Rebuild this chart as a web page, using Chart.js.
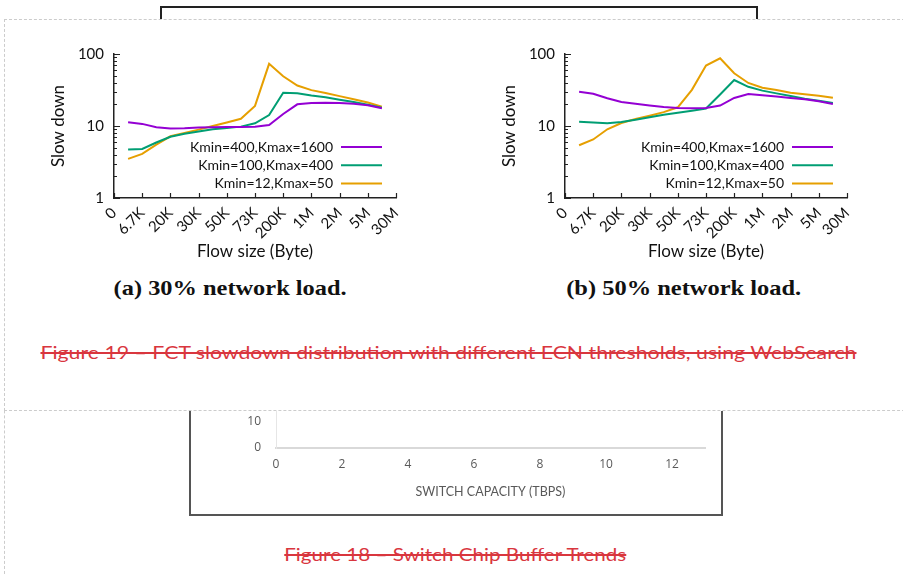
<!DOCTYPE html>
<html>
<head>
<meta charset="utf-8">
<script src="https://cdn.jsdelivr.net/npm/chart.js@4.4.1/dist/chart.umd.min.js"></script>
<style>
  html, body { margin: 0; padding: 0; background: #fff; }
  body { width: 903px; height: 574px; position: relative; overflow: hidden; font-family: Lato, sans-serif; }
  .abs { position: absolute; }
  #topBox { left: 160px; top: 6px; width: 594px; height: 40px; border: 2px solid #222; border-bottom: none; z-index: 1; }
  #pageEdge { left: 4px; top: 19px; height: 560px; border-left: 1px dashed #ccc; z-index: 0; }
  #sheet { left: 4px; top: 19px; width: 920px; height: 390px; background: #fff; border: 1px dashed #ccc; border-right: none; z-index: 3; }
  #bottomBox { left: 189px; top: 380px; width: 530px; height: 134px; border: 2px solid #555; border-top: none; z-index: 1; }
  #capChart { left: 200px; top: 330px; z-index: 2; }
  #loadA { left: 30px; top: 30px; z-index: 4; }
  #loadB { left: 481px; top: 30px; z-index: 4; }
  .fit { z-index: 4; white-space: nowrap; text-align: center; }
  .fit span { display: inline-block; transform-origin: center center; }
  .sub { font-family: "Liberation Serif", serif; font-weight: bold; font-size: 22px; color: #111; line-height: 26px; }
  .cap { font-family: Lato, sans-serif; font-size: 18px; color: #d9363e; line-height: 24px; }
  .cap span { text-decoration: line-through; text-decoration-thickness: 2px; text-decoration-color: #d9363e; }
</style>
</head>
<body>
<div id="topBox" class="abs"></div>
<div id="pageEdge" class="abs"></div>
<div id="bottomBox" class="abs"></div>
<canvas id="capChart" class="abs" width="520" height="180"></canvas>
<div id="sheet" class="abs"></div>
<canvas id="loadA" class="abs" width="400" height="240"></canvas>
<canvas id="loadB" class="abs" width="400" height="240"></canvas>

<div class="abs fit sub" data-cx="230" data-cy="288" data-w="233"><span>(a) 30% network load.</span></div>
<div class="abs fit sub" data-cx="684" data-cy="288" data-w="235"><span>(b) 50% network load.</span></div>
<div class="abs fit cap" data-cx="448" data-cy="352" data-w="816"><span>Figure 19 – FCT slowdown distribution with different ECN thresholds, using WebSearch</span></div>
<div class="abs fit cap" data-cx="455" data-cy="554" data-w="342"><span>Figure 18 – Switch Chip Buffer Trends</span></div>

<script>
// slowdown charts: x axis categories (tick boundaries) and sample positions between them
const flowLabels = ['0', '6.7K', '20K', '30K', '50K', '73K', '200K', '1M', '2M', '5M', '30M'];
const xPos = [0.5, 1, 1.5, 2, 2.5, 3, 3.5, 4, 4.5, 5, 5.5, 6, 6.5, 7, 7.5, 8, 8.5, 9, 9.5];
const yTicks = [1, 10, 100];
const seriesNames = ['Kmin=400,Kmax=1600', 'Kmin=100,Kmax=400', 'Kmin=12,Kmax=50'];
const seriesColors = ['#9400d3', '#009e73', '#e69f00'];

// (a) 30% load
const load30Purple = [11.3, 10.7, 9.6, 9.2, 9.3, 9.5, 9.6, 9.7, 9.7, 9.8, 10.3, 14.7, 20.0, 20.8, 21.0, 20.9, 20.4, 19.4, 17.6];
const load30Green  = [4.7, 4.8, 5.9, 7.1, 7.8, 8.4, 9.0, 9.4, 9.8, 10.9, 14.2, 29.0, 28.5, 26.5, 25.0, 23.2, 21.5, 19.8, 18.0];
const load30Orange = [3.5, 4.1, 5.5, 7.2, 8.0, 8.9, 10.0, 11.2, 12.6, 19.0, 73.0, 49.0, 36.5, 31.5, 28.8, 26.0, 23.6, 21.2, 18.6];

// (b) 50% load
const load50Purple = [30.0, 28.0, 24.3, 21.6, 20.3, 19.2, 18.3, 17.8, 17.6, 17.8, 19.2, 24.5, 27.8, 26.7, 25.6, 24.5, 23.5, 22.1, 20.2];
const load50Green  = [11.5, 11.2, 10.9, 11.4, 12.2, 13.2, 14.3, 15.3, 16.3, 17.5, 27.4, 43.5, 35.0, 31.0, 28.4, 26.1, 24.0, 22.5, 20.8];
const load50Orange = [5.4, 6.5, 9.0, 11.0, 12.5, 13.9, 15.6, 18.2, 31.8, 69.0, 87.0, 54.0, 39.6, 34.0, 31.6, 29.0, 27.6, 26.4, 24.6];

// remnant of the switch buffer chart
const capacityTicks = [0, 2, 4, 6, 8, 10, 12];
const bufferTicks = [0, 10, 20, 30];

const insideLegend = {
  id: 'insideLegend',
  afterDatasetsDraw(chart) {
    const { ctx, chartArea: a } = chart;
    ctx.save();
    ctx.font = '14px Lato';
    ctx.fillStyle = '#111';
    ctx.textAlign = 'right';
    ctx.textBaseline = 'middle';
    chart.data.datasets.forEach((ds, i) => {
      const y = a.top + 93 + i * 18.3;
      ctx.fillText(ds.label, a.right - 63, y);
      ctx.strokeStyle = ds.borderColor;
      ctx.lineWidth = 2;
      ctx.beginPath();
      ctx.moveTo(a.right - 55, y);
      ctx.lineTo(a.right - 14, y);
      ctx.stroke();
    });
    ctx.restore();
  }
};

// gnuplot style ticks pointing into the plot
const inwardTicks = {
  id: 'inwardTicks',
  afterDraw(chart) {
    const { ctx, chartArea: a, scales: { x, y } } = chart;
    ctx.save();
    ctx.strokeStyle = '#222';
    ctx.lineWidth = 1.2;
    ctx.beginPath();
    [1, 10].forEach(d => {
      for (let m = 1; m <= 9; m++) {
        const py = Math.round(y.getPixelForValue(d * m)) + 0.5;
        ctx.moveTo(a.left, py);
        ctx.lineTo(a.left + (m === 1 ? 6 : 3), py);
      }
    });
    const top = Math.round(y.getPixelForValue(100)) + 0.5;
    ctx.moveTo(a.left, top);
    ctx.lineTo(a.left + 6, top);
    flowLabels.forEach((_, i) => {
      const px = Math.round(x.getPixelForValue(i)) + 0.5;
      ctx.moveTo(px, a.bottom);
      ctx.lineTo(px, a.bottom - 5);
    });
    ctx.stroke();
    ctx.restore();
  }
};

function buildSlowdown(el, purple, green, orange) {
  const series = [purple, green, orange];
  return new Chart(el, {
    type: 'line',
    data: {
      datasets: series.map((vals, i) => ({
        label: seriesNames[i],
        data: xPos.map((x, j) => ({ x, y: vals[j] })),
        borderColor: seriesColors[i],
        borderWidth: 2,
        pointRadius: 0,
        tension: 0,
        fill: false
      }))
    },
    options: {
      responsive: false,
      devicePixelRatio: 1,
      animation: false,
      layout: { padding: { left: 14, top: 24, right: 34, bottom: 4 } },
      plugins: { legend: { display: false }, tooltip: { enabled: false } },
      scales: {
        x: {
          type: 'linear', min: 0, max: 10,
          afterBuildTicks: s => { s.ticks = flowLabels.map((_, i) => ({ value: i })); },
          afterFit: s => { s.height = 68; },
          grid: { display: false, drawTicks: false },
          border: { display: true, color: '#222', width: 1.5 },
          ticks: {
            autoSkip: false, minRotation: 45, maxRotation: 45, padding: 6,
            color: '#111', font: { family: 'Lato', size: 15 },
            callback: v => flowLabels[v]
          },
          title: { display: true, text: 'Flow size (Byte)', color: '#111', font: { family: 'Lato', size: 17 } }
        },
        y: {
          type: 'logarithmic', min: 1, max: 100,
          afterBuildTicks: s => { s.ticks = yTicks.map(v => ({ value: v })); },
          afterFit: s => { s.width = 70; },
          grid: { display: false, drawTicks: false },
          border: { display: true, color: '#222', width: 1.5 },
          ticks: { padding: 10, color: '#111', font: { family: 'Lato', size: 15 }, callback: v => String(v) },
          title: { display: true, text: 'Slow down', color: '#111', font: { family: 'Lato', size: 17 } }
        }
      }
    },
    plugins: [insideLegend, inwardTicks]
  });
}

buildSlowdown(document.getElementById('loadA'), load30Purple, load30Green, load30Orange);
buildSlowdown(document.getElementById('loadB'), load50Purple, load50Green, load50Orange);

new Chart(document.getElementById('capChart'), {
  type: 'scatter',
  data: { datasets: [] },
  options: {
    responsive: false,
    devicePixelRatio: 1,
    animation: false,
    layout: { padding: { left: 0, top: 40, right: 15, bottom: 7 } },
    plugins: { legend: { display: false }, tooltip: { enabled: false } },
    scales: {
      x: {
        type: 'linear', min: 0, max: 13,
        afterBuildTicks: s => { s.ticks = capacityTicks.map(v => ({ value: v })); },
        afterFit: s => { s.height = 55; },
        grid: { display: false, drawTicks: false },
        border: { display: true, color: '#d9d9d9', width: 2 },
        ticks: { padding: 9, color: '#595959', font: { family: 'Open Sans', size: 12 } },
        title: { display: true, text: 'SWITCH CAPACITY (TBPS)', color: '#595959', font: { family: 'Lato', size: 12.5 } }
      },
      y: {
        type: 'linear', min: 0, max: 30,
        afterBuildTicks: s => { s.ticks = bufferTicks.map(v => ({ value: v })); },
        afterFit: s => { s.width = 76; },
        grid: { display: false, drawTicks: false },
        border: { display: true, color: '#e6e6e6', width: 1 },
        ticks: { padding: 15, color: '#595959', font: { family: 'Open Sans', size: 12 } }
      }
    }
  }
});

// place the text blocks and stretch each to the measured width of the original
document.querySelectorAll('.fit').forEach(el => {
  const span = el.querySelector('span');
  const w = span.getBoundingClientRect().width;
  const target = Number(el.dataset.w);
  span.style.transform = 'scaleX(' + (target / w).toFixed(4) + ')';
  el.style.width = '900px';
  el.style.left = (Number(el.dataset.cx) - 450) + 'px';
  el.style.top = (Number(el.dataset.cy) - el.getBoundingClientRect().height / 2) + 'px';
});
</script>
</body>
</html>
